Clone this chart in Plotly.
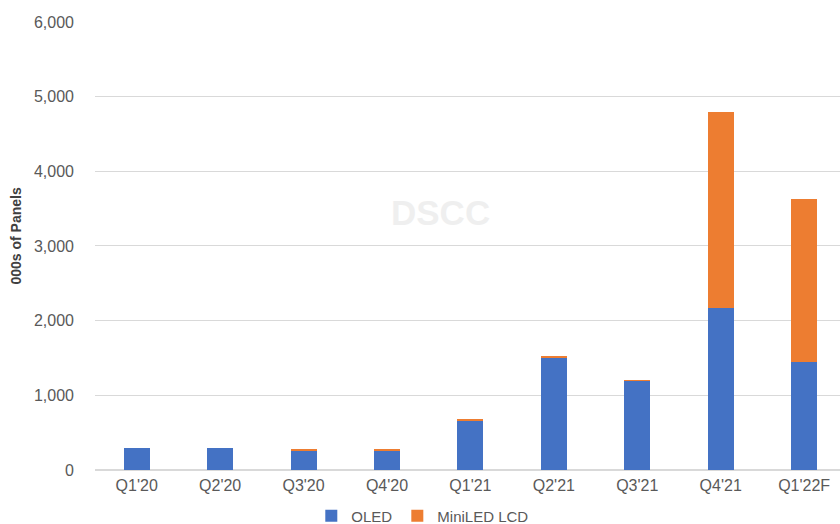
import plotly.graph_objects as go

quarters = ["Q1'20", "Q2'20", "Q3'20", "Q4'20", "Q1'21", "Q2'21", "Q3'21", "Q4'21", "Q1'22F"]
oled = [290, 290, 258, 258, 650, 1500, 1188, 2170, 1450]
miniled = [0, 0, 25, 25, 28, 25, 22, 2620, 2185]
y_ticks = [0, 1000, 2000, 3000, 4000, 5000, 6000]

FONT = "Liberation Sans, Arial, sans-serif"
TICK_COLOR = "#595959"

W, H = 840, 524
L, R, T, B = 95, 0, 21, 54
PW = W - L - R
PH = H - T - B

fig = go.Figure()
fig.add_trace(go.Bar(name="OLED", x=quarters, y=oled,
                     marker=dict(color="#4472C4", line=dict(width=0)), width=0.31))
fig.add_trace(go.Bar(name="MiniLED LCD", x=quarters, y=miniled,
                     marker=dict(color="#ED7D31", line=dict(width=0)), width=0.31))

fig.update_layout(
    width=W, height=H,
    barmode="stack",
    plot_bgcolor="white", paper_bgcolor="white",
    margin=dict(l=L, r=R, t=T, b=B, pad=0, autoexpand=False),
    font=dict(family=FONT, size=16, color=TICK_COLOR),
    legend=dict(orientation="h", xref="paper", x=0.44, xanchor="center",
                yref="container", y=(H - 516) / H, yanchor="middle",
                font=dict(size=15, color=TICK_COLOR), itemwidth=30, traceorder="normal"),
    xaxis=dict(range=[-0.5, 8.43], showgrid=False, showline=False, ticks="",
               tickfont=dict(size=16, color=TICK_COLOR), ticklabelstandoff=4, automargin=False),
    yaxis=dict(range=[0, 6013], tickvals=y_ticks, tickformat=",", showgrid=True,
               gridcolor="#d9d9d9", gridwidth=1, zeroline=True, zerolinecolor="#d9d9d9",
               showline=False, ticks="", tickfont=dict(size=16, color=TICK_COLOR),
               ticklabelstandoff=20, automargin=False),
    annotations=[
        dict(text="<b>000s of Panels</b>", textangle=-90, xref="paper", yref="paper",
             x=(16 - L) / PW, y=0.52, xanchor="center", yanchor="middle", showarrow=False,
             font=dict(size=14, color="#404040")),
        dict(text="<b>DSCC</b>", xref="paper", yref="paper",
             x=(440 - L) / PW, y=(470 - 213) / PH, xanchor="center", yanchor="middle",
             showarrow=False, font=dict(size=35, color="#efefef")),
    ],
)

post = (
    "var h=document.documentElement,b=document.body;"
    "[h,b].forEach(function(e){e.style.margin='0';e.style.padding='0';e.style.overflow='hidden';});"
)

fig.write_html("out.html", config={"displayModeBar": False, "staticPlot": True}, post_script=post)
